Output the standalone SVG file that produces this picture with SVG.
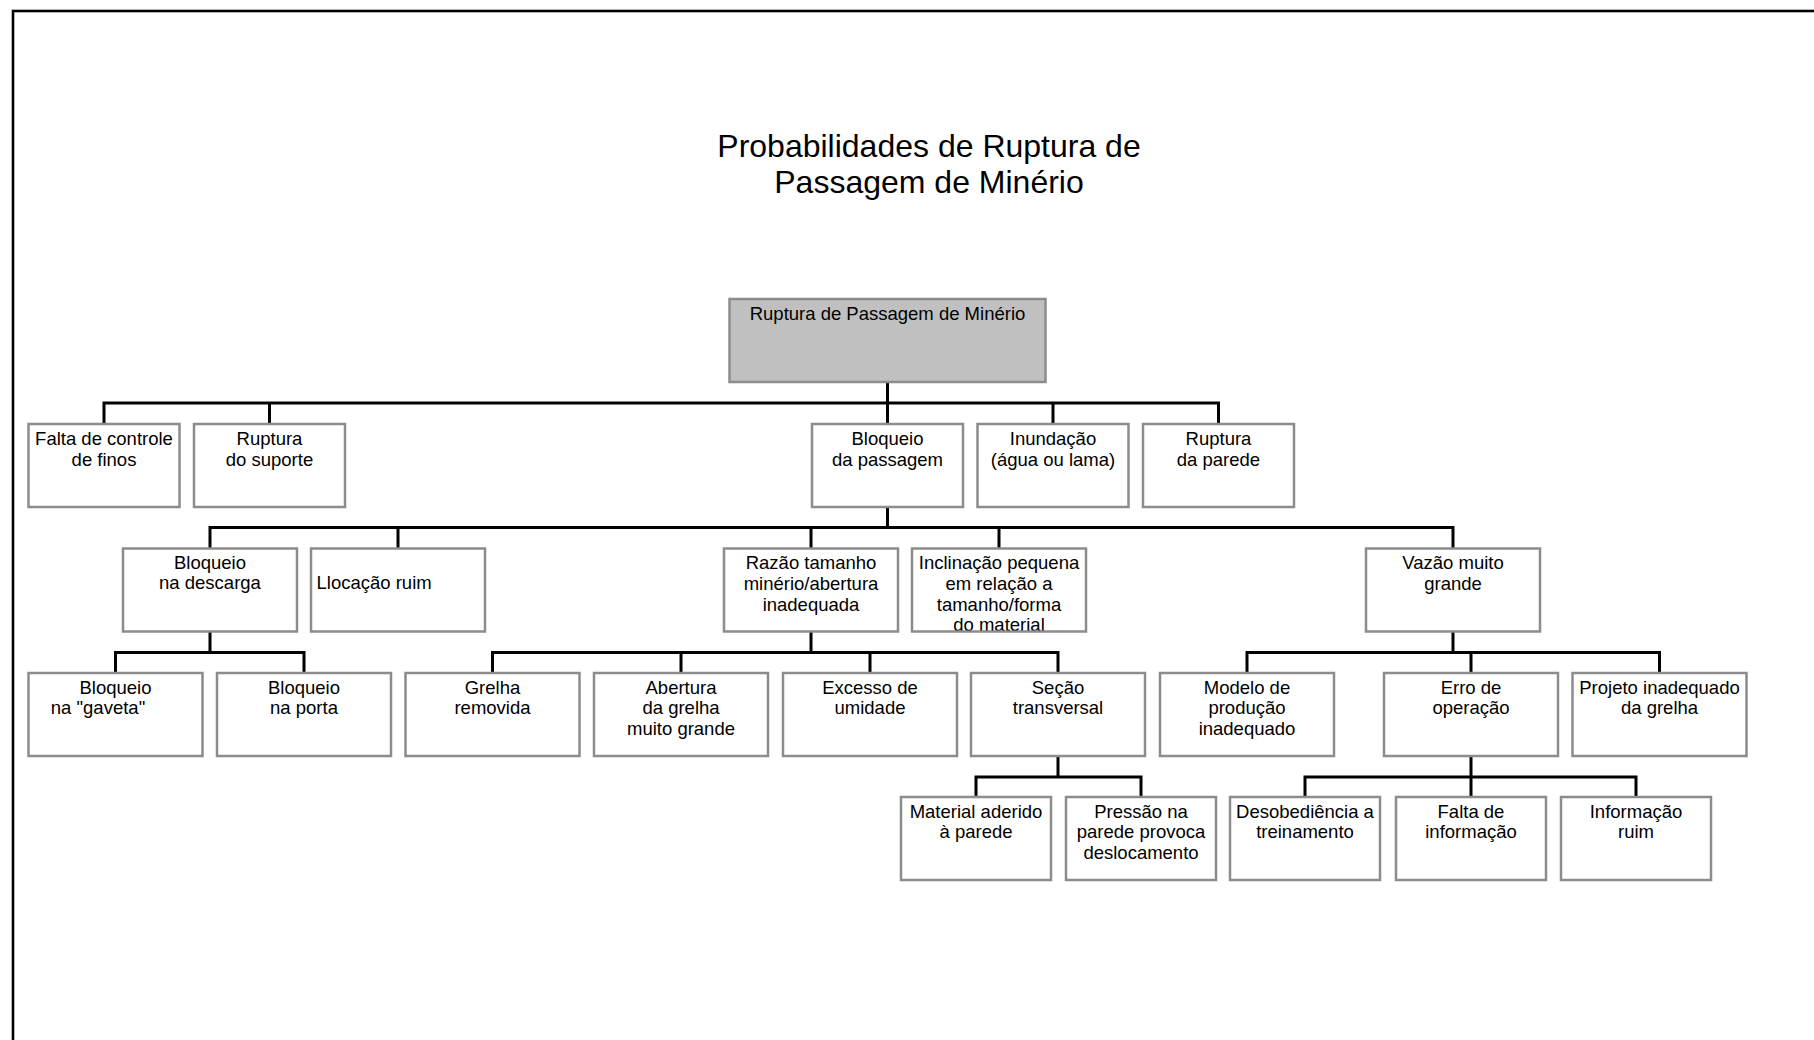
<svg xmlns="http://www.w3.org/2000/svg" width="1814" height="1040" viewBox="0 0 1814 1040">
<style>
.bx{fill:#ffffff;stroke:#8c8c8c;stroke-width:2.5}
.root{fill:#c0c0c0;stroke:#8c8c8c;stroke-width:2.5}
.t{font-family:"Liberation Sans",Arial,Helvetica,sans-serif;font-size:18.5px;fill:#000;text-anchor:middle}
.tl{font-family:"Liberation Sans",Arial,Helvetica,sans-serif;font-size:18.5px;fill:#000;text-anchor:start}
.title{font-family:"Liberation Sans",Arial,Helvetica,sans-serif;font-size:32px;fill:#000;text-anchor:middle}
.c{fill:none;stroke:#000;stroke-width:3}
</style>
<defs>
<clipPath id="clipIncl"><rect x="913" y="549.5" width="172" height="81"/></clipPath>
</defs>
<rect width="1814" height="1040" fill="#ffffff"/>
<rect x="13" y="11" width="1900" height="1100" fill="none" stroke="#000" stroke-width="2.6"/>
<g id="title">
<text class="title" x="929" y="156.5">Probabilidades de Ruptura de</text>
<text class="title" x="929" y="193">Passagem de Minério</text>
</g>
<g id="connectors">
<path class="c" d="M887.5 382 V403 M104 424 V403 H1218.5 V424 M269.5 403 V424 M887.5 403 V424 M1053 403 V424"/>
<path class="c" d="M887.5 507 V527.5 M210 548.5 V527.5 H1453 V548.5 M398 527.5 V548.5 M811 527.5 V548.5 M999 527.5 V548.5"/>
<path class="c" d="M210 631.5 V652.5 M115.5 673 V652.5 H304 V673"/>
<path class="c" d="M811 631.5 V652.5 M492.5 673 V652.5 H1058 V673 M681 652.5 V673 M870 652.5 V673"/>
<path class="c" d="M1453 631.5 V652.5 M1247 673 V652.5 H1659.5 V673 M1471 652.5 V673"/>
<path class="c" d="M1058 756 V777 M976 797 V777 H1141 V797"/>
<path class="c" d="M1471 756 V777 M1305 797 V777 H1636 V797 M1471 777 V797"/>
</g>
<g id="n-root"><rect class="root" x="729.5" y="299" width="316" height="83"/><text class="t" x="887.5" y="319.5">Ruptura de Passagem de Minério</text></g>
<g id="n-falta-finos"><rect class="bx" x="28.5" y="424" width="151" height="83"/><text class="t" x="104" y="445">Falta de controle</text><text class="t" x="104" y="465.8">de finos</text></g>
<g id="n-ruptura-suporte"><rect class="bx" x="194" y="424" width="151" height="83"/><text class="t" x="269.5" y="445">Ruptura</text><text class="t" x="269.5" y="465.8">do suporte</text></g>
<g id="n-bloqueio-passagem"><rect class="bx" x="812" y="424" width="151" height="83"/><text class="t" x="887.5" y="445">Bloqueio</text><text class="t" x="887.5" y="465.8">da passagem</text></g>
<g id="n-inundacao"><rect class="bx" x="977.5" y="424" width="151" height="83"/><text class="t" x="1053" y="445">Inundação</text><text class="t" x="1053" y="465.8">(água ou lama)</text></g>
<g id="n-ruptura-parede"><rect class="bx" x="1143" y="424" width="151" height="83"/><text class="t" x="1218.5" y="445">Ruptura</text><text class="t" x="1218.5" y="465.8">da parede</text></g>
<g id="n-bloqueio-descarga"><rect class="bx" x="123" y="548.5" width="174" height="83"/><text class="t" x="210" y="568.5">Bloqueio</text><text class="t" x="210" y="589.3">na descarga</text></g>
<g id="n-llocacao"><rect class="bx" x="311" y="548.5" width="174" height="83"/><text class="tl" x="316.5" y="589.3">Llocação ruim</text></g>
<g id="n-razao"><rect class="bx" x="724" y="548.5" width="174" height="83"/><text class="t" x="811" y="569">Razão tamanho</text><text class="t" x="811" y="589.8">minério/abertura</text><text class="t" x="811" y="610.6">inadequada</text></g>
<g id="n-inclinacao"><rect class="bx" x="912" y="548.5" width="174" height="83"/><g clip-path="url(#clipIncl)"><text class="t" x="999" y="569">Inclinação pequena</text><text class="t" x="999" y="589.8">em relação a</text><text class="t" x="999" y="610.6">tamanho/forma</text><text class="t" x="999" y="631.4">do material</text></g></g>
<g id="n-vazao"><rect class="bx" x="1366" y="548.5" width="174" height="83"/><text class="t" x="1453" y="569">Vazão muito</text><text class="t" x="1453" y="589.8">grande</text></g>
<g id="n-gaveta"><rect class="bx" x="28.5" y="673" width="174" height="83"/><text class="t" x="115.5" y="693.5">Bloqueio</text><text class="t" x="98" y="714.3">na "gaveta"</text></g>
<g id="n-porta"><rect class="bx" x="217" y="673" width="174" height="83"/><text class="t" x="304" y="693.5">Bloqueio</text><text class="t" x="304" y="714.3">na porta</text></g>
<g id="n-grelha-removida"><rect class="bx" x="405.5" y="673" width="174" height="83"/><text class="t" x="492.5" y="693.5">Grelha</text><text class="t" x="492.5" y="714.3">removida</text></g>
<g id="n-abertura"><rect class="bx" x="594" y="673" width="174" height="83"/><text class="t" x="681" y="693.5">Abertura</text><text class="t" x="681" y="714.3">da grelha</text><text class="t" x="681" y="735.1">muito grande</text></g>
<g id="n-umidade"><rect class="bx" x="783" y="673" width="174" height="83"/><text class="t" x="870" y="693.5">Excesso de</text><text class="t" x="870" y="714.3">umidade</text></g>
<g id="n-secao"><rect class="bx" x="971" y="673" width="174" height="83"/><text class="t" x="1058" y="693.5">Seção</text><text class="t" x="1058" y="714.3">transversal</text></g>
<g id="n-modelo"><rect class="bx" x="1160" y="673" width="174" height="83"/><text class="t" x="1247" y="693.5">Modelo de</text><text class="t" x="1247" y="714.3">produção</text><text class="t" x="1247" y="735.1">inadequado</text></g>
<g id="n-erro"><rect class="bx" x="1384" y="673" width="174" height="83"/><text class="t" x="1471" y="693.5">Erro de</text><text class="t" x="1471" y="714.3">operação</text></g>
<g id="n-projeto"><rect class="bx" x="1572.5" y="673" width="174" height="83"/><text class="t" x="1659.5" y="693.5">Projeto inadequado</text><text class="t" x="1659.5" y="714.3">da grelha</text></g>
<g id="n-material"><rect class="bx" x="901" y="797" width="150" height="83"/><text class="t" x="976" y="817.5">Material aderido</text><text class="t" x="976" y="838.3">à parede</text></g>
<g id="n-pressao"><rect class="bx" x="1066" y="797" width="150" height="83"/><text class="t" x="1141" y="817.5">Pressão na</text><text class="t" x="1141" y="838.3">parede provoca</text><text class="t" x="1141" y="859.1">deslocamento</text></g>
<g id="n-desobediencia"><rect class="bx" x="1230" y="797" width="150" height="83"/><text class="t" x="1305" y="817.5">Desobediência a</text><text class="t" x="1305" y="838.3">treinamento</text></g>
<g id="n-falta-info"><rect class="bx" x="1396" y="797" width="150" height="83"/><text class="t" x="1471" y="817.5">Falta de</text><text class="t" x="1471" y="838.3">informação</text></g>
<g id="n-info-ruim"><rect class="bx" x="1561" y="797" width="150" height="83"/><text class="t" x="1636" y="817.5">Informação</text><text class="t" x="1636" y="838.3">ruim</text></g>
</svg>
